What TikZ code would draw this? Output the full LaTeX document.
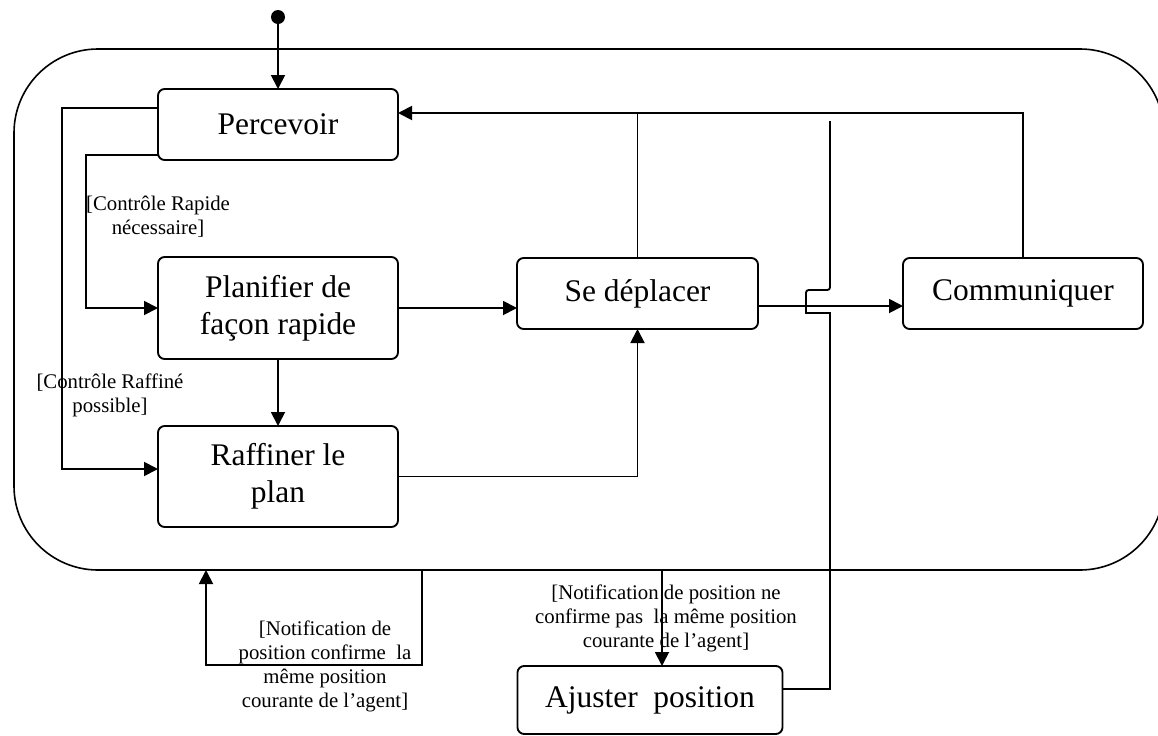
\documentclass[tikz,border=0pt]{standalone}
\usepackage{fontspec}
\setmainfont{Liberation Serif}
\usetikzlibrary{arrows.meta}
\begin{document}
\begin{tikzpicture}[x=0.75pt,y=-0.75pt,
  state/.style={draw, line width=1.4pt, rounded corners=5pt, align=center, inner sep=0pt, outer sep=0pt,
    font=\fontsize{23.6}{27.7}\selectfont},
  lbl/.style={align=center, inner sep=0pt, font=\fontsize{15.6}{18}\selectfont},
  conn/.style={line width=1.4pt},
  arr/.style={conn, -{Triangle[length=10.5pt,width=10.5pt]}}]
\useasboundingbox (0,0) rectangle (1158,736);

% container
\node[draw, line width=1.2pt, rounded corners=63pt, minimum width=862.5pt, minimum height=390.75pt, outer sep=0pt]
  (outer) at (589,309.5) {};

% initial state
\node[circle, fill=black, inner sep=0pt, minimum size=10.5pt] (init) at (278,17) {};

% states
\node[state, minimum width=180pt, minimum height=53.25pt] (perc) at (278,124.5) {Percevoir};
\node[state, minimum width=180pt, minimum height=76.5pt] (plan) at (278,308) {Planifier de\\façon rapide};
\node[state, minimum width=180pt, minimum height=75.75pt] (raff) at (278,476.5) {Raffiner le\\plan};
\node[state, minimum width=180.75pt, minimum height=53.25pt] (depl) at (637.5,293.5) {Se déplacer};
\node[state, minimum width=180pt, minimum height=53.25pt] (comm) at (1023,293.5) {Communiquer};
\node[state, minimum width=198.75pt, minimum height=51pt] (ajust) at (650,700) {Ajuster~ position};

% labels
\node[lbl] (lab1) at (158,217) {[Contrôle Rapide\\nécessaire]};
\node[lbl] (lab2) at (110,395) {[Contrôle Raffiné\\possible]};
\node[lbl] (lab3) at (325,666) {[Notification de\\position confirme~ la\\même position\\courante de l’agent]};
\node[lbl] (lab4) at (666,618) {[Notification de position ne\\confirme pas~ la même position\\courante de l’agent]};

% helper coordinates
\coordinate (k1) at (62,108);
\coordinate (k1b) at (62,469);
\coordinate (k2) at (86,155);
\coordinate (k4) at (1022,113);
\coordinate (k5) at (830,306);
\coordinate (k6) at (830,121);
\coordinate (k7) at (830,689);
\coordinate (j1) at (830,313);
\coordinate (j2) at (806,313);
\coordinate (j3) at (806,290);
\coordinate (j4) at (830,290);
\coordinate (b1) at (422,665);
\coordinate (b2) at (206,665);
\coordinate (b3) at (662,666);

% connectors
\draw[arr] (init) -- (perc.north);
\draw[arr] (perc.west |- k1) -- (k1) -- (k1b) -- (raff.west |- k1b);
\draw[arr] (perc.west |- k2) -- (k2) |- (plan.west);
\draw[arr] (plan.east) -- (depl.west |- plan.east);
\draw[arr] (plan.south) -- (raff.north);
\draw[arr] (raff.east) -| (depl.south);
\draw[arr] (comm.north) |- (perc.east |- k4);
\draw[conn] (depl.north) -- (depl.north |- k4);
\draw[arr] (depl.east |- k5) -- (comm.west |- k5);
\draw[conn] (ajust.east |- k7) -- (k7) -- (j1) -- (j2) [rounded corners=2pt] -- (j3) -- (j4) [sharp corners] -- (k6);
\draw[arr] (outer.south -| b1) -- (b1) -- (b2) -- (outer.south -| b2);
\draw[arr] (outer.south -| b3) -- (ajust.north -| b3);
\end{tikzpicture}
\end{document}
